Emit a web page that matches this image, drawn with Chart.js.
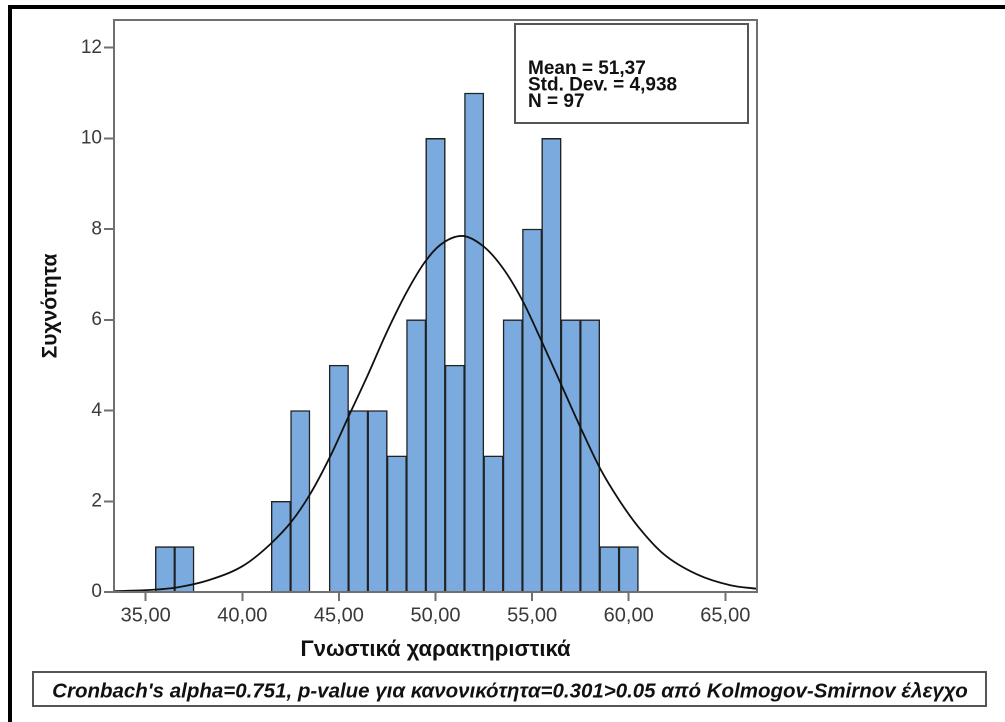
<!DOCTYPE html>
<html>
<head>
<meta charset="utf-8">
<script src="https://cdn.jsdelivr.net/npm/chart.js@4.4.1/dist/chart.umd.min.js"></script>
<style>
  html, body { margin: 0; padding: 0; background: #fff; overflow: hidden; }
  #wrap { position: relative; width: 1005px; height: 722px; }
  #edge {
    position: absolute; left: 8px; top: 5px; width: 1100px; height: 800px;
    border-top: 4px solid #000; border-left: 4px solid #000; pointer-events: none;
  }
  canvas { position: absolute; left: 0; top: 0; }
</style>
</head>
<body>
<div id="wrap">
  <canvas id="chart" width="1005" height="722"></canvas>
  <div id="edge"></div>
</div>
<script>
// histogram bins (bin centre) and counts
const binCentres = [36, 37, 42, 43, 45, 46, 47, 48, 49, 50, 51, 52, 53, 54, 55, 56, 57, 58, 59, 60]
const binCounts = [1, 1, 2, 4, 5, 4, 4, 3, 6, 10, 5, 11, 3, 6, 8, 10, 6, 6, 1, 1]

// normal curve, points
const curveX = [33.36, 35.0, 36.6, 38.33, 40.05, 41.44, 42.56, 43.5, 44.54, 45.49, 46.45, 47.48, 48.52, 49.46, 50.24,
  51.36, 52.48, 53.52, 54.52, 55.47, 56.51, 57.49, 58.56, 59.53, 60.51, 61.8, 63.53, 65.26, 66.64]
const curveY = [0.02, 0.04, 0.1, 0.27, 0.58, 1.05, 1.56, 2.15, 2.98, 3.86, 4.74, 5.73, 6.62, 7.28, 7.65,
  7.85, 7.62, 7.12, 6.41, 5.55, 4.57, 3.64, 2.69, 2.01, 1.43, 0.84, 0.39, 0.15, 0.07]

const xTickValues = [35, 40, 45, 50, 55, 60, 65]
const yTickValues = [0, 2, 4, 6, 8, 10, 12]

const statLines = ["Mean = 51,37", "Std. Dev. = 4,938", "N = 97"]
const xTitle = "Γνωστικά χαρακτηριστικά"
const yTitle = "Συχνότητα"
const caption = "Cronbach's alpha=0.751, p-value για κανονικότητα=0.301>0.05 από Kolmogov-Smirnov έλεγχο"

const FONT = "'Liberation Sans', Arial, sans-serif"
const frameColor = "#707070"

const boxesPlugin = {
  id: "boxes",
  afterDatasetsDraw(chart) {
    const { ctx, chartArea: a } = chart
    ctx.save()
    ctx.strokeStyle = frameColor
    ctx.lineWidth = 2
    ctx.strokeRect(a.left, a.top, a.right - a.left, a.bottom - a.top)
    ctx.restore()
  },
  afterDraw(chart) {
    const ctx = chart.ctx

    // stats box
    ctx.save()
    ctx.shadowColor = "rgba(0,0,0,0.35)"
    ctx.shadowOffsetX = 1.5
    ctx.shadowOffsetY = 1.5
    ctx.fillStyle = "#fff"
    ctx.fillRect(515, 24, 233, 99)
    ctx.restore()
    ctx.save()
    ctx.strokeStyle = "#555"
    ctx.lineWidth = 2
    ctx.strokeRect(515, 24, 233, 99)
    ctx.fillStyle = "#111"
    ctx.font = "bold 19px " + FONT
    statLines.forEach((t, i) => ctx.fillText(t, 528, 74 + i * 16.5))
    ctx.restore()

    // caption box
    ctx.save()
    ctx.shadowColor = "rgba(0,0,0,0.35)"
    ctx.shadowOffsetX = 1.5
    ctx.shadowOffsetY = 1.5
    ctx.fillStyle = "#fff"
    ctx.fillRect(33, 672, 953, 34)
    ctx.restore()
    ctx.save()
    ctx.strokeStyle = "#555"
    ctx.lineWidth = 2
    ctx.strokeRect(33, 672, 953, 34)
    ctx.fillStyle = "#111"
    let size = 17
    ctx.font = "italic bold " + size + "px " + FONT
    size = size * 916 / ctx.measureText(caption).width
    ctx.font = "italic bold " + size.toFixed(2) + "px " + FONT
    ctx.textAlign = "center"
    ctx.textBaseline = "middle"
    ctx.fillText(caption, 510, 692)
    ctx.restore()
  },
}

new Chart(document.getElementById("chart"), {
  type: "bar",
  data: {
    datasets: [
      {
        type: "line",
        data: curveX.map((x, i) => ({ x, y: curveY[i] })),
        borderColor: "#111",
        borderWidth: 1.8,
        pointRadius: 0,
        cubicInterpolationMode: "monotone",
        order: 0,
      },
      {
        type: "bar",
        data: binCentres.map((x, i) => ({ x, y: binCounts[i] })),
        backgroundColor: "#7aaade",
        borderColor: "#222",
        borderWidth: 1.4,
        barPercentage: 1,
        categoryPercentage: 1,
        order: 1,
      },
    ],
  },
  options: {
    responsive: false,
    animation: false,
    devicePixelRatio: 2,
    layout: { padding: { left: 0, right: 248, top: 20, bottom: 0 } },
    plugins: {
      legend: { display: false },
      tooltip: { enabled: false },
    },
    events: [],
    scales: {
      x: {
        type: "linear",
        offset: false,
        min: 33.36,
        max: 66.64,
        afterFit: (s) => { s.height = 130 },
        afterBuildTicks: (s) => { s.ticks = xTickValues.map((v) => ({ value: v })) },
        border: { color: frameColor, width: 2 },
        grid: { offset: false, drawOnChartArea: false, drawTicks: true, tickLength: 9, color: frameColor, lineWidth: 2 },
        ticks: {
          color: "#3a3a3a",
          font: { family: FONT, size: 20 },
          padding: 3,
          maxRotation: 0,
          autoSkip: false,
          callback: (v) => v.toFixed(2).replace(".", ","),
        },
        title: {
          display: true,
          text: xTitle,
          color: "#111",
          font: { family: FONT, size: 22, weight: "bold" },
          padding: { top: 0, bottom: 58.8 },
        },
      },
      y: {
        min: 0,
        max: 12.61,
        afterFit: (s) => { s.width = 114 },
        afterBuildTicks: (s) => { s.ticks = yTickValues.map((v) => ({ value: v })) },
        border: { color: frameColor, width: 2 },
        grid: { drawOnChartArea: false, drawTicks: true, tickLength: 10, color: frameColor, lineWidth: 2 },
        ticks: {
          color: "#3a3a3a",
          font: { family: FONT, size: 19 },
          padding: 2,
          callback: (v) => String(v),
        },
        title: {
          display: true,
          text: yTitle,
          color: "#111",
          font: { family: FONT, size: 21, weight: "bold" },
          padding: { top: 38, bottom: 0 },
        },
      },
    },
  },
  plugins: [boxesPlugin],
})
</script>
</body>
</html>
